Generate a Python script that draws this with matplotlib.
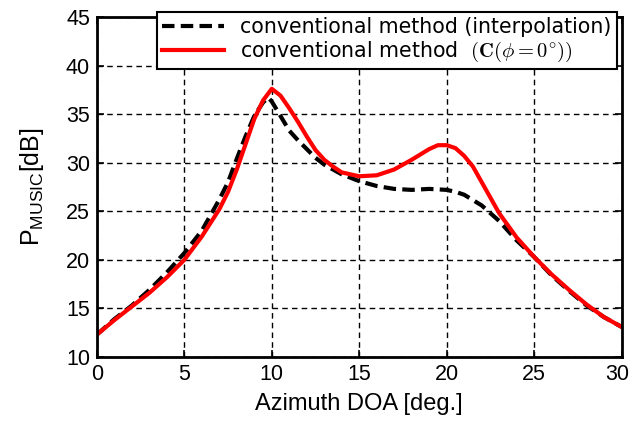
import numpy as np
import matplotlib.pyplot as plt
from matplotlib.font_manager import FontProperties
from matplotlib.transforms import ScaledTranslation

# Azimuth DOA [deg.] und P_MUSIC [dB]
interp_x = [0, 1, 2, 3, 4, 5, 6, 7, 7.5, 8, 8.5, 9, 9.5, 9.8, 10, 10.5, 11, 11.5, 12,
            12.5, 13, 13.5, 14, 15, 16, 17, 18, 19, 20, 20.5, 21, 22, 23, 24, 25,
            26, 27, 28, 29, 30]
interp_y = [12.3, 13.9, 15.3, 16.9, 18.7, 20.7, 23.0, 26.2, 28.0, 30.4, 32.7, 34.8, 36.2, 36.7,
            36.3, 34.8, 33.3, 32.3, 31.4, 30.5, 29.8, 29.3, 28.8, 28.1, 27.6, 27.3, 27.2,
            27.3, 27.2, 27.0, 26.7, 25.6, 24.0, 22.0, 20.3, 18.4, 16.8, 15.3, 14.1, 13.1]

c0_x = [0, 1, 2, 3, 4, 5, 6, 7, 7.5, 8, 8.5, 9, 9.5, 10, 10.5, 11, 11.5, 12, 12.5, 13,
        13.5, 14, 15, 16, 17, 18, 19, 19.5, 20, 20.5, 21, 21.5, 22, 23, 24, 25, 26,
        27, 28, 29, 30]
c0_y = [12.3, 13.8, 15.2, 16.6, 18.2, 20.0, 22.4, 25.2, 27.0, 29.3, 31.9, 34.5, 36.4, 37.6,
        36.9, 35.6, 34.2, 32.7, 31.3, 30.3, 29.6, 29.0, 28.6, 28.7, 29.3, 30.3, 31.4,
        31.8, 31.8, 31.5, 30.7, 29.6, 28.0, 24.8, 22.3, 20.3, 18.5, 16.9, 15.4, 14.1, 13.1]

xticks = [0, 5, 10, 15, 20, 25, 30]
yticks = [10, 15, 20, 25, 30, 35, 40, 45]

fig = plt.figure(figsize=(6.33, 4.23), dpi=100)
ax = fig.add_axes([0.153, 0.156, 0.829, 0.804])

ax.plot(interp_x, interp_y, color='black', lw=3, ls=(0, (3, 1.5)),
        label='conventional method (interpolation)')
ax.plot(c0_x, c0_y, color='#ff0000', lw=3,
        label=r'conventional method  $(\mathbf{C}(\phi = 0^{\circ}))$')

ax.set_xlim(0, 30)
ax.set_ylim(10, 45)
ax.set_xticks(xticks)
ax.set_yticks(yticks)
ax.grid(True, color='black', ls=(0, (4, 3)), lw=1)
ax.tick_params(direction='in', length=5, width=1.2, top=True, right=True,
               labelsize=15.5, pad=5)
for lab in ax.get_xticklabels() + ax.get_yticklabels():
    lab.set_family('Liberation Sans')
# "30" am rechten Rand etwas nach links, damit es nicht abgeschnitten wird
last = ax.get_xticklabels()[-1]
last.set_transform(last.get_transform() + ScaledTranslation(-3 / 72, 0, fig.dpi_scale_trans))
for s in ax.spines.values():
    s.set_linewidth(2)

ax.set_xlabel('Azimuth DOA [deg.]', fontsize=17, family='Liberation Sans', labelpad=6)
ax.set_ylabel(r'P$_{\mathregular{MUSIC}}$[dB]', fontsize=18, family='Liberation Sans',
              labelpad=14)

leg = ax.legend(loc='upper right', bbox_to_anchor=(0.991, 1.015), fancybox=False,
                framealpha=1, edgecolor='black', handlelength=3.0,
                prop=FontProperties(size=14.8, math_fontfamily='cm'),
                borderpad=0.25, labelspacing=0.15, borderaxespad=0, handletextpad=0.8)
leg.get_frame().set_linewidth(1.5)

fig.savefig('out.png', dpi=100)
